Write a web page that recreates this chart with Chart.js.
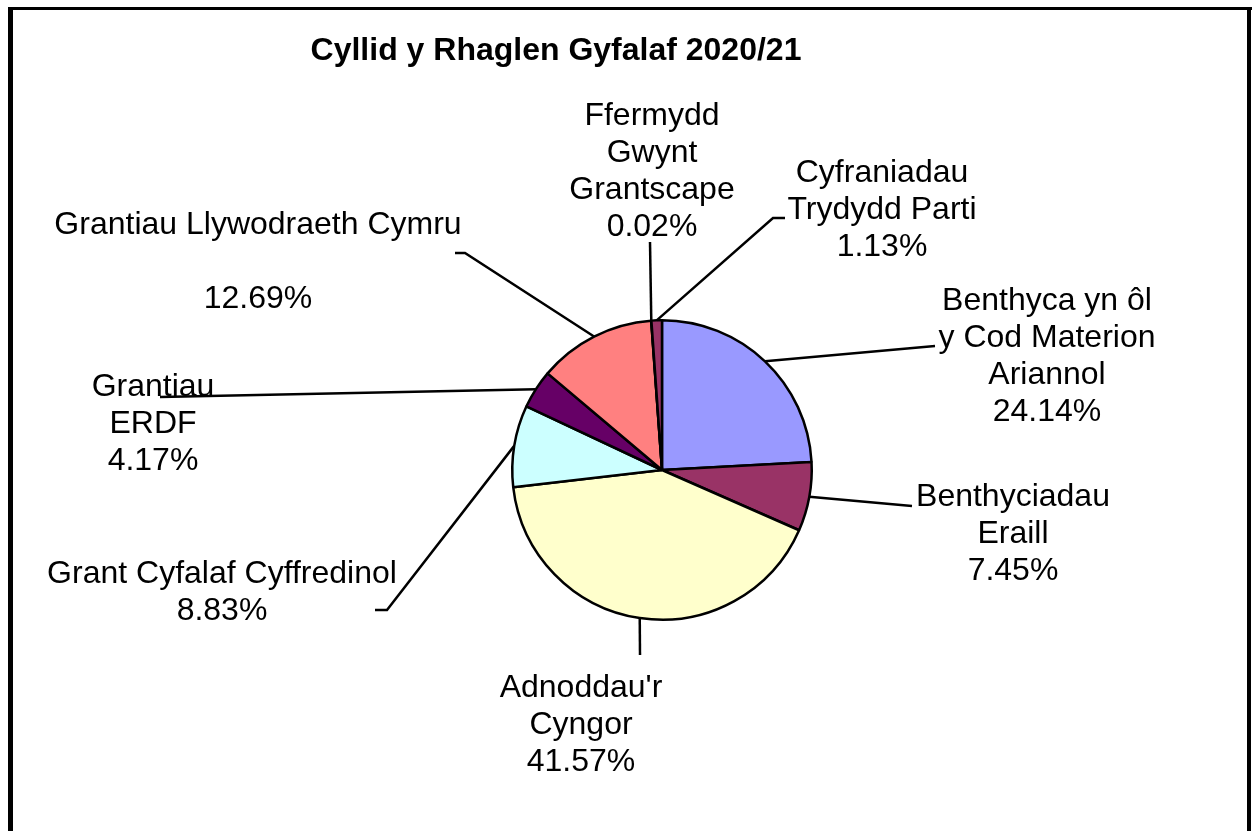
<!DOCTYPE html>
<html>
<head>
<meta charset="utf-8">
<script src="https://cdn.jsdelivr.net/npm/chart.js@4/dist/chart.umd.min.js"></script>
<style>
  html, body { margin: 0; padding: 0; background: #fff; }
  #wrap { position: relative; width: 1257px; height: 831px; }
</style>
</head>
<body>
<div id="wrap"><canvas id="pie"></canvas></div>
<script>
const chartTitle = 'Cyllid y Rhaglen Gyfalaf 2020/21'

const categories = [
  ['Benthyca yn ôl', 'y Cod Materion', 'Ariannol'],
  ['Benthyciadau', 'Eraill'],
  ["Adnoddau'r", 'Cyngor'],
  ['Grant Cyfalaf Cyffredinol'],
  ['Grantiau', 'ERDF'],
  ['Grantiau Llywodraeth Cymru', ''],
  ['Ffermydd', 'Gwynt', 'Grantscape'],
  ['Cyfraniadau', 'Trydydd Parti']
]

const shares = [24.14, 7.45, 41.57, 8.83, 4.17, 12.69, 0.02, 1.13]

const sliceColors = ['#9999FF', '#993366', '#FFFFCC', '#CCFFFF', '#660066', '#FF8080', '#0066CC', '#993366']

// label placement: centre x of the text, y of the first line, leader line bends
const labelLayout = [
  { x: 1047, y: 301, path: [[935, 346]] },
  { x: 1013, y: 497, path: [[912, 506]] },
  { x: 581, y: 688, path: [[640, 655]] },
  { x: 222, y: 574, path: [[387, 610], [375, 610]] },
  { x: 153, y: 387, path: [[160, 397]] },
  { x: 258, y: 225, path: [[465, 253], [455, 253]] },
  { x: 652, y: 116, path: [[650, 242]] },
  { x: 882, y: 173, path: [[773, 218], [785, 218]] }
]

const FONT = '"Liberation Sans", Arial, sans-serif'
const LINE_H = 37

// leader lines, labels, title and the outer frame
const calloutPlugin = {
  id: 'callouts',
  afterDraw(chart) {
    const ctx = chart.ctx
    const arcs = chart.getDatasetMeta(0).data
    ctx.save()

    ctx.strokeStyle = '#000'
    ctx.lineWidth = 2.5
    arcs.forEach((arc, i) => {
      const mid = (arc.startAngle + arc.endAngle) / 2
      const sx = arc.x + Math.cos(mid) * arc.outerRadius
      const sy = arc.y + Math.sin(mid) * arc.outerRadius
      ctx.beginPath()
      ctx.moveTo(sx, sy)
      labelLayout[i].path.forEach(p => ctx.lineTo(p[0], p[1]))
      ctx.stroke()
    })

    ctx.fillStyle = '#000'
    ctx.textAlign = 'center'
    ctx.textBaseline = 'middle'
    ctx.font = '32px ' + FONT
    categories.forEach((lines, i) => {
      const pos = labelLayout[i]
      const all = lines.concat([shares[i].toFixed(2) + '%'])
      all.forEach((t, k) => ctx.fillText(t, pos.x, pos.y + k * LINE_H))
    })

    ctx.font = 'bold 32px ' + FONT
    ctx.fillText(chartTitle, 556, 51)

    ctx.fillRect(8, 7, 1244, 3)
    ctx.fillRect(8, 7, 5, 824)
    ctx.fillRect(1247, 7, 4, 824)
    ctx.restore()
  }
}

new Chart(document.getElementById('pie'), {
  type: 'pie',
  data: {
    labels: categories.map(c => c.join(' ')),
    datasets: [{
      data: shares,
      backgroundColor: sliceColors,
      borderColor: '#000',
      borderWidth: 2.5
    }]
  },
  options: {
    responsive: true,
    maintainAspectRatio: false,
    animation: false,
    layout: { padding: { left: 511, right: 444, top: 319, bottom: 210 } },
    plugins: {
      legend: { display: false },
      tooltip: { enabled: false }
    }
  },
  plugins: [calloutPlugin]
})
</script>
</body>
</html>
